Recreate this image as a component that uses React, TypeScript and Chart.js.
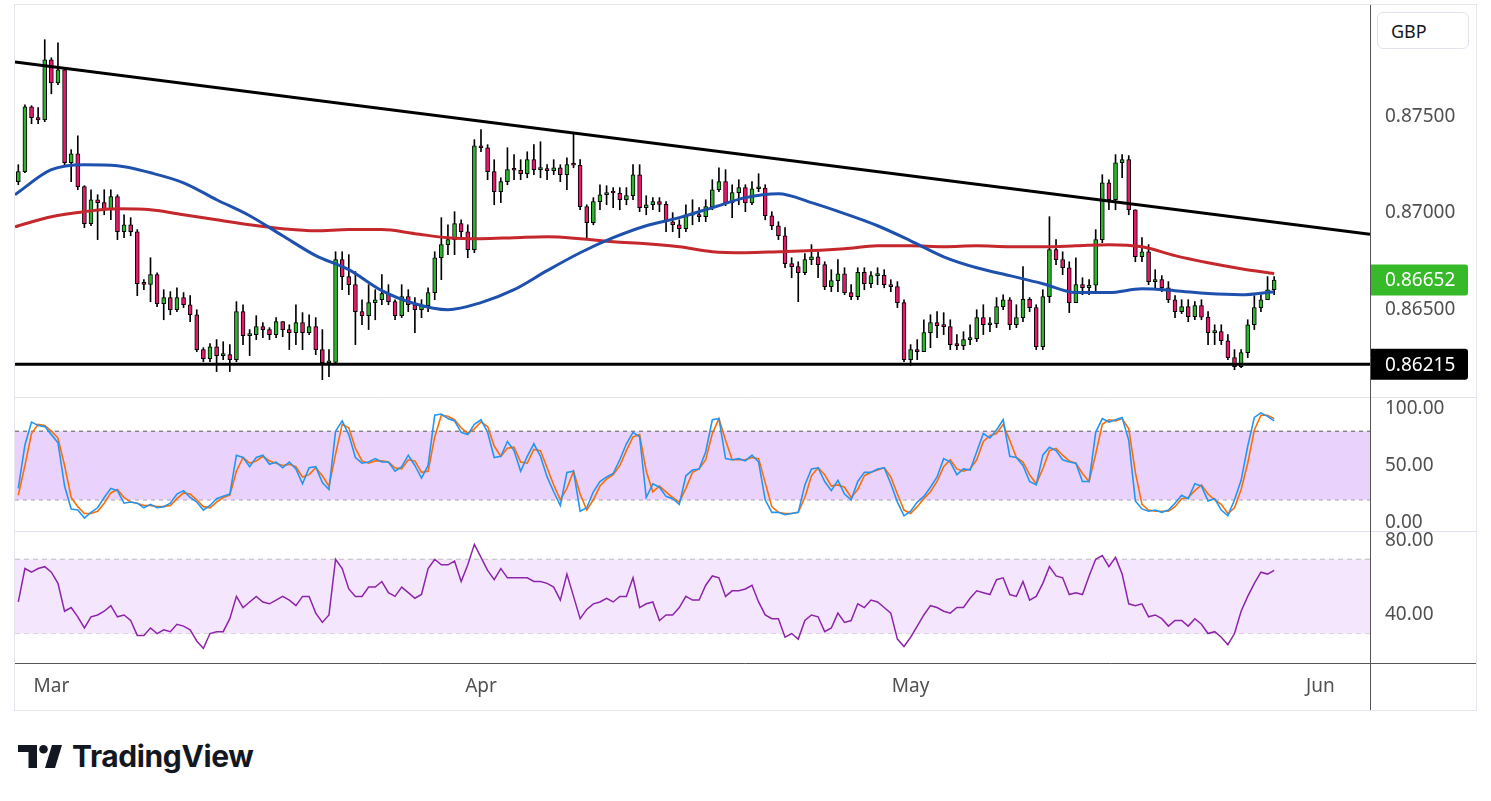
import React, { useEffect, useRef } from "react";
import { Chart, registerables } from "chart.js";

Chart.register(...registerables);

// ---------------- DATA ----------------
const FIRST_OPEN = 0.87163;

const CLOSE = [
  0.87215, 0.87552, 0.87495, 0.87484, 0.87796, 0.87676, 0.87744, 0.87261, 0.87308, 0.87137,
  0.86945, 0.87069, 0.87054, 0.87017, 0.87085, 0.86903, 0.86939, 0.86903, 0.86633, 0.8663,
  0.8668, 0.86529, 0.86561, 0.86498, 0.86561, 0.86524, 0.86472, 0.86291, 0.86244, 0.86306,
  0.8626, 0.86265, 0.86239, 0.86488, 0.86364, 0.86369, 0.8641, 0.86395, 0.86369, 0.86436,
  0.86395, 0.86379, 0.86431, 0.86379, 0.8641, 0.86291, 0.86223, 0.86225, 0.86758, 0.8667,
  0.86628, 0.86488, 0.86467, 0.86535, 0.8655, 0.86582, 0.8654, 0.86467, 0.86566, 0.86524,
  0.86498, 0.86519, 0.86587, 0.86768, 0.86836, 0.86862, 0.86945, 0.86903, 0.8681, 0.87349,
  0.87339, 0.87215, 0.87111, 0.87163, 0.87225, 0.87222, 0.87204, 0.87277, 0.87225, 0.87228,
  0.8722, 0.87235, 0.87199, 0.87251, 0.87248, 0.87033, 0.8695, 0.87059, 0.87095, 0.87106,
  0.87104, 0.87069, 0.8709, 0.87199, 0.87028, 0.87043, 0.87059, 0.87045, 0.86955, 0.86939,
  0.86919, 0.86991, 0.86989, 0.86981, 0.87033, 0.87121, 0.87163, 0.87054, 0.87106, 0.87132,
  0.87052, 0.87126, 0.8713, 0.86986, 0.86934, 0.86882, 0.86737, 0.86722, 0.8669, 0.86758,
  0.86773, 0.86732, 0.86618, 0.86649, 0.86685, 0.86587, 0.86566, 0.86692, 0.86633, 0.86675,
  0.86677, 0.86628, 0.86618, 0.86535, 0.86239, 0.86291, 0.8628, 0.86379, 0.86431, 0.86415,
  0.8641, 0.86317, 0.86312, 0.86343, 0.86348, 0.86457, 0.8642, 0.86426, 0.86514, 0.8655,
  0.8642, 0.86457, 0.86552, 0.86509, 0.86306, 0.86566, 0.8681, 0.86758, 0.86716, 0.86535,
  0.86628, 0.86612, 0.86626, 0.86862, 0.87157, 0.87069, 0.87261, 0.87277, 0.87017, 0.86773,
  0.86799, 0.86644, 0.86654, 0.86612, 0.8655, 0.86488, 0.86514, 0.86462, 0.86519, 0.8646,
  0.86379, 0.86384, 0.86337, 0.86249, 0.86203, 0.86275, 0.8642, 0.86509, 0.8655, 0.86602,
  0.86652,
];

const HIGH = [
  0.87251, 0.87562, 0.87557, 0.87547, 0.879, 0.87806, 0.87884, 0.87754, 0.87329, 0.87401,
  0.87142, 0.87121, 0.87095, 0.87121, 0.87121, 0.87095, 0.86991, 0.86976, 0.86914, 0.86654,
  0.86768, 0.8669, 0.86602, 0.86592, 0.86612, 0.86587, 0.86571, 0.86498, 0.86301, 0.86322,
  0.86343, 0.86332, 0.86317, 0.8654, 0.86524, 0.86395, 0.86467, 0.86431, 0.86405, 0.86457,
  0.86436, 0.8642, 0.86524, 0.86483, 0.86472, 0.86457, 0.86395, 0.86291, 0.86799, 0.86799,
  0.86784, 0.86696, 0.8655, 0.86628, 0.86602, 0.8668, 0.86628, 0.8655, 0.86628, 0.86602,
  0.86561, 0.8655, 0.86612, 0.86799, 0.86976, 0.86939, 0.87007, 0.86965, 0.86939, 0.87381,
  0.87433, 0.87355, 0.87277, 0.87183, 0.87339, 0.87303, 0.87277, 0.87318, 0.87355, 0.8737,
  0.87251, 0.87277, 0.87251, 0.87287, 0.87417, 0.87277, 0.87043, 0.8708, 0.87147, 0.87142,
  0.87132, 0.87132, 0.87132, 0.87251, 0.87251, 0.8709, 0.8708, 0.8708, 0.87059, 0.87002,
  0.86965, 0.87043, 0.87069, 0.87028, 0.87069, 0.87173, 0.87235, 0.87225, 0.87147, 0.87173,
  0.87147, 0.87163, 0.87204, 0.87147, 0.87007, 0.86955, 0.86924, 0.86768, 0.86747, 0.86789,
  0.86836, 0.86799, 0.86747, 0.86706, 0.86758, 0.86716, 0.86628, 0.86716, 0.86716, 0.86696,
  0.86716, 0.86706, 0.86654, 0.86644, 0.8655, 0.86317, 0.86343, 0.86446, 0.86472, 0.86488,
  0.86483, 0.86446, 0.86369, 0.86384, 0.8642, 0.86498, 0.86524, 0.86457, 0.86561, 0.86576,
  0.86561, 0.86524, 0.86722, 0.86561, 0.86524, 0.86602, 0.86981, 0.86862, 0.86799, 0.86747,
  0.86768, 0.86664, 0.86654, 0.86914, 0.87199, 0.87173, 0.87303, 0.87303, 0.87298, 0.87017,
  0.86872, 0.86836, 0.86706, 0.86675, 0.86644, 0.86571, 0.8655, 0.8655, 0.8654, 0.8655,
  0.86488, 0.8642, 0.8642, 0.86369, 0.86291, 0.86291, 0.86446, 0.86571, 0.86576, 0.8667,
  0.8667,
];

const LOW = [
  0.87147, 0.87209, 0.87464, 0.87464, 0.87474, 0.87619, 0.87666, 0.87251, 0.87163, 0.87121,
  0.86924, 0.86934, 0.86862, 0.86991, 0.86965, 0.86862, 0.86872, 0.86882, 0.86571, 0.86602,
  0.8654, 0.86514, 0.86446, 0.86472, 0.86488, 0.86509, 0.86436, 0.8628, 0.86228, 0.86228,
  0.86177, 0.86239, 0.86177, 0.86228, 0.86317, 0.8626, 0.86343, 0.86353, 0.86343, 0.86353,
  0.86358, 0.86291, 0.86317, 0.86291, 0.86369, 0.86265, 0.86135, 0.86151, 0.86213, 0.86602,
  0.86576, 0.86317, 0.8642, 0.86395, 0.86446, 0.86524, 0.86524, 0.86446, 0.86457, 0.86488,
  0.86379, 0.86457, 0.86488, 0.8655, 0.86654, 0.86784, 0.86784, 0.86862, 0.86768, 0.86794,
  0.87318, 0.87173, 0.87043, 0.87054, 0.87147, 0.87173, 0.87173, 0.87183, 0.87199, 0.87183,
  0.87173, 0.87199, 0.87163, 0.87121, 0.87235, 0.87017, 0.86872, 0.86939, 0.87017, 0.87043,
  0.87028, 0.87017, 0.87043, 0.87069, 0.87007, 0.86991, 0.87017, 0.87007, 0.86903, 0.86903,
  0.86872, 0.86903, 0.86939, 0.86955, 0.86955, 0.87017, 0.87111, 0.87038, 0.86976, 0.87043,
  0.87007, 0.87043, 0.87111, 0.86965, 0.86914, 0.86862, 0.86716, 0.86664, 0.8654, 0.8668,
  0.86732, 0.86664, 0.86602, 0.86592, 0.86592, 0.86576, 0.8655, 0.8655, 0.86602, 0.86612,
  0.86628, 0.86612, 0.86592, 0.86509, 0.86228, 0.86208, 0.86239, 0.86306, 0.86301, 0.86353,
  0.86369, 0.86291, 0.86291, 0.86291, 0.86317, 0.86332, 0.86369, 0.86384, 0.86405, 0.86498,
  0.86395, 0.86405, 0.86436, 0.86488, 0.86291, 0.86291, 0.86535, 0.86732, 0.8668, 0.86483,
  0.8655, 0.86576, 0.86576, 0.86592, 0.86846, 0.87017, 0.87017, 0.87183, 0.86991, 0.86747,
  0.86747, 0.86628, 0.86602, 0.86592, 0.86535, 0.86457, 0.86478, 0.86436, 0.86446, 0.86446,
  0.86317, 0.86317, 0.86317, 0.86239, 0.86187, 0.86197, 0.86249, 0.86395, 0.86488, 0.8655,
  0.86576,
];

// moving averages, sampled every 5 bars
const MA_INDEX = [
  -0.5, 5, 10, 15, 20, 25, 30, 35, 40, 45, 50, 55, 60, 65, 70, 75, 80, 85, 90, 95,
  100, 105, 110, 115, 120, 125, 130, 135, 140, 145, 150, 155, 160, 165, 170, 175, 180, 185, 190,
];
const MA_FAST = [
  0.87095, 0.87225, 0.87251, 0.87246, 0.87209, 0.87157, 0.87069, 0.86986, 0.86882, 0.86779,
  0.86706, 0.86597, 0.86529, 0.86498, 0.86535, 0.86602, 0.86701, 0.86794, 0.86872, 0.86934,
  0.86976, 0.87028, 0.8708, 0.871, 0.87054, 0.86997, 0.86934, 0.86856, 0.86773, 0.86716,
  0.86675, 0.86633, 0.86587, 0.86587, 0.86607, 0.86597, 0.86582, 0.86576, 0.86592,
];
const MA_SLOW = [
  0.86929, 0.86981, 0.87007, 0.87022, 0.87017, 0.86991, 0.86965, 0.86939, 0.86919, 0.86908,
  0.86914, 0.86914, 0.86893, 0.86872, 0.86867, 0.86872, 0.86877, 0.86867, 0.86851, 0.86841,
  0.86825, 0.86799, 0.86794, 0.86799, 0.86805, 0.86815, 0.8683, 0.8683, 0.86825, 0.8683,
  0.86825, 0.86825, 0.8683, 0.86836, 0.86825, 0.86779, 0.86742, 0.86711, 0.86685,
];

// drawn lines
const TRENDLINE_INDEX = [-0.5, 204.5];
const TRENDLINE_PRICE = [0.87784, 0.8689];
const SUPPORT_PRICE = 0.86215;

const STOCH_K = [
  30, 68, 88, 85, 84, 77, 70, 32, 12, 11,
  4, 9, 13, 22, 30, 28, 17, 18, 17, 13,
  16, 13, 14, 17, 25, 28, 22, 18, 11, 15,
  21, 23, 25, 59, 57, 49, 57, 59, 51, 53,
  48, 53, 47, 34, 48, 49, 35, 29, 80, 89,
  77, 57, 52, 53, 56, 53, 53, 45, 49, 59,
  50, 39, 50, 94, 95, 91, 89, 79, 77, 86,
  90, 79, 57, 58, 71, 63, 45, 58, 69, 58,
  40, 27, 15, 44, 45, 10, 13, 27, 36, 40,
  43, 55, 69, 79, 75, 22, 34, 31, 23, 21,
  16, 41, 46, 47, 62, 90, 91, 56, 55, 56,
  54, 59, 53, 20, 9, 9, 7, 8, 9, 33,
  47, 48, 36, 28, 37, 25, 20, 36, 44, 44,
  47, 48, 34, 18, 6, 10, 18, 23, 31, 40,
  56, 53, 42, 47, 46, 62, 78, 74, 81, 90,
  58, 57, 50, 36, 33, 59, 66, 63, 55, 53,
  52, 36, 36, 79, 91, 88, 90, 92, 72, 19,
  12, 10, 11, 9, 11, 17, 24, 21, 34, 32,
  19, 21, 11, 6, 20, 37, 67, 92, 96, 93,
  89,
];

const STOCH_D = [
  24, 50, 78, 86, 85, 80, 74, 50, 22, 14,
  8, 8, 10, 17, 26, 29, 22, 18, 17, 15,
  15, 14, 14, 15, 21, 26, 25, 20, 14, 13,
  18, 22, 24, 45, 57, 52, 54, 58, 54, 52,
  50, 51, 49, 40, 42, 48, 41, 32, 60, 86,
  83, 65, 54, 52, 54, 54, 53, 48, 47, 55,
  54, 44, 45, 75, 94, 93, 90, 83, 78, 82,
  88, 84, 67, 58, 65, 66, 53, 52, 64, 63,
  48, 33, 20, 30, 45, 25, 11, 20, 32, 38,
  42, 50, 63, 75, 77, 45, 27, 32, 27, 22,
  18, 30, 44, 47, 55, 78, 91, 72, 55, 55,
  55, 57, 56, 35, 14, 9, 8, 8, 9, 22,
  41, 48, 42, 32, 33, 31, 22, 29, 41, 44,
  46, 48, 40, 25, 11, 8, 14, 21, 27, 36,
  49, 55, 47, 45, 47, 55, 71, 76, 78, 86,
  72, 57, 53, 42, 34, 47, 63, 65, 59, 54,
  52, 43, 36, 60, 86, 90, 89, 91, 82, 44,
  16, 11, 10, 10, 10, 14, 21, 22, 28, 33,
  25, 20, 16, 8, 13, 29, 52, 81, 94, 94,
  91,
];

const RSI = [
  47, 65, 63, 65, 66, 63, 57, 42, 44, 39,
  33, 39, 40, 42, 45, 39, 40, 37, 29, 29,
  33, 30, 32, 31, 35, 34, 32, 26, 22, 30,
  31, 31, 38, 50, 44, 47, 50, 47, 46, 48,
  50, 48, 45, 50, 50, 41, 36, 40, 70, 65,
  54, 50, 50, 55, 55, 58, 52, 50, 55, 52,
  49, 51, 65, 70, 67, 67, 69, 58, 67, 78,
  71, 64, 59, 65, 60, 60, 60, 60, 58, 58,
  57, 55, 48, 62, 50, 38, 43, 46, 47, 49,
  47, 50, 50, 60, 44, 46, 47, 37, 40, 40,
  44, 50, 48, 48, 56, 61, 60, 50, 53, 53,
  54, 56, 47, 40, 38, 38, 28, 30, 27, 37,
  40, 39, 31, 33, 41, 36, 37, 46, 44, 48,
  47, 44, 41, 27, 23, 28, 34, 40, 45, 44,
  42, 41, 44, 44, 49, 53, 52, 51, 59, 60,
  51, 50, 58, 48, 50, 57, 66, 61, 60, 51,
  52, 51, 61, 70, 72, 66, 71, 62, 46, 45,
  46, 39, 40, 38, 34, 37, 37, 34, 38, 35,
  30, 31, 28, 24, 30, 42, 50, 57, 63, 62,
  64,
];

const STOCH_BAND = [20, 80];
const RSI_BAND = [30, 70];

const MONTH_LABELS = ["Mar", "Apr", "May", "Jun"];
const MONTH_START_INDEX = [5, 70, 135, 197];

const PRICE_TICKS = [0.865, 0.87, 0.875];
const STOCH_TICKS = [0, 50, 100];
const RSI_TICKS = [40, 80];

// ---------------- STYLE ----------------
const FONT = "'Noto Sans', 'DejaVu Sans', sans-serif";
const AXIS_TEXT = "#505050";
const UP = "#2DB42D";
const DOWN = "#E8196A";
const X_MIN = -0.5;
const X_MAX = 204.5;
const AXIS_W = 106;

const OPEN = CLOSE.map((_, i) => (i === 0 ? FIRST_OPEN : CLOSE[i - 1]));

function fixWidth(scale: any) {
  scale.width = AXIS_W;
  scale.paddingTop = 0;
  scale.paddingBottom = 0;
}

const overlayPlugin = {
  id: "overlay",
  afterDraw(chart: any) {
    const { ctx, scales } = chart;
    const W = chart.width;
    const H = chart.height;
    ctx.save();
    // pane separators
    ctx.lineWidth = 1;
    ctx.strokeStyle = "#E0E3EB";
    [scales.yStoch.top, scales.yRsi.top].forEach((yy: number) => {
      const p = Math.round(yy) + 0.5;
      ctx.beginPath();
      ctx.moveTo(0, p);
      ctx.lineTo(W, p);
      ctx.stroke();
    });
    ctx.strokeStyle = "#555555";
    const xb = Math.round(scales.x.top) + 0.5;
    ctx.beginPath();
    ctx.moveTo(0, xb);
    ctx.lineTo(W, xb);
    ctx.stroke();
    const vx = Math.round(scales.y.left) + 0.5;
    ctx.beginPath();
    ctx.moveTo(vx, 0);
    ctx.lineTo(vx, H);
    ctx.stroke();

    // price labels
    const drawLabel = (price: number, bg: string) => {
      const py = scales.y.getPixelForValue(price);
      const x0 = scales.y.left + 1;
      ctx.fillStyle = bg;
      ctx.beginPath();
      if ((ctx as any).roundRect) (ctx as any).roundRect(x0, py - 15.5, 97, 31, [0, 3, 3, 0]);
      else ctx.rect(x0, py - 15.5, 97, 31);
      ctx.fill();
      ctx.fillStyle = "#ffffff";
      ctx.font = `19px ${FONT}`;
      ctx.textBaseline = "middle";
      ctx.textAlign = "left";
      ctx.fillText(price.toFixed(5), scales.y.left + 15, py + 1);
    };
    drawLabel(CLOSE[CLOSE.length - 1], "#37BA2A");
    drawLabel(SUPPORT_PRICE, "#000000");
    ctx.restore();
  },
};

function hLine(value: number, axis: string, color: string, dash: number[], fillTo?: number, fillColor?: string) {
  return {
    type: "line" as const,
    data: [
      { x: X_MIN, y: value },
      { x: X_MAX, y: value },
    ],
    yAxisID: axis,
    borderColor: color,
    borderWidth: 1,
    borderDash: dash,
    pointRadius: 0,
    fill: fillTo !== undefined ? { value: fillTo } : false,
    backgroundColor: fillColor || "transparent",
    order: 20,
  };
}

export default function App() {
  const ref = useRef<HTMLCanvasElement>(null);

  useEffect(() => {
    if (!ref.current) return;
    Chart.defaults.font.family = FONT;
    const chart = new Chart(ref.current, {
      type: "bar",
      data: {
        datasets: [
          // stoch band
          hLine(STOCH_BAND[1], "yStoch", "#555555", [4, 4], STOCH_BAND[0], "#E9D2FC"),
          hLine(STOCH_BAND[0], "yStoch", "#555555", [4, 4]),
          // rsi band
          hLine(RSI_BAND[1], "yRsi", "#BDBDBD", [5, 4], RSI_BAND[0], "#F4E7FD"),
          hLine(RSI_BAND[0], "yRsi", "#BDBDBD", [5, 4]),
          // candle wicks
          {
            type: "bar",
            data: CLOSE.map((_, i) => ({ x: i, y: [LOW[i], HIGH[i]] })) as any,
            backgroundColor: "#000000",
            barThickness: 1,
            grouped: false,
            yAxisID: "y",
            order: 12,
          },
          // candle bodies
          {
            type: "bar",
            data: CLOSE.map((c, i) => ({ x: i, y: [OPEN[i], c] })) as any,
            backgroundColor: CLOSE.map((c, i) => (c >= OPEN[i] ? UP : DOWN)),
            borderColor: "#000000",
            borderWidth: 1,
            borderSkipped: false,
            barThickness: 4,
            minBarLength: 2,
            grouped: false,
            yAxisID: "y",
            order: 11,
          },
          // moving averages
          {
            type: "line",
            data: MA_INDEX.map((x, k) => ({ x, y: MA_SLOW[k] })),
            borderColor: "#C4282C",
            borderWidth: 3,
            pointRadius: 0,
            cubicInterpolationMode: "monotone",
            yAxisID: "y",
            order: 5,
          },
          {
            type: "line",
            data: MA_INDEX.map((x, k) => ({ x, y: MA_FAST[k] })),
            borderColor: "#1E50AE",
            borderWidth: 3,
            pointRadius: 0,
            cubicInterpolationMode: "monotone",
            yAxisID: "y",
            order: 4,
          },
          // trend lines
          {
            type: "line",
            data: TRENDLINE_INDEX.map((x, k) => ({ x, y: TRENDLINE_PRICE[k] })),
            borderColor: "#000000",
            borderWidth: 3,
            pointRadius: 0,
            yAxisID: "y",
            order: 1,
          },
          {
            type: "line",
            data: TRENDLINE_INDEX.map((x) => ({ x, y: SUPPORT_PRICE })),
            borderColor: "#000000",
            borderWidth: 3,
            pointRadius: 0,
            yAxisID: "y",
            order: 1,
          },
          // stochastic
          {
            type: "line",
            data: STOCH_D.map((v, i) => ({ x: i, y: v })),
            borderColor: "#FF6D00",
            borderWidth: 1.6,
            pointRadius: 0,
            yAxisID: "yStoch",
            order: 3,
          },
          {
            type: "line",
            data: STOCH_K.map((v, i) => ({ x: i, y: v })),
            borderColor: "#2196F3",
            borderWidth: 1.6,
            pointRadius: 0,
            yAxisID: "yStoch",
            order: 2,
          },
          // rsi
          {
            type: "line",
            data: RSI.map((v, i) => ({ x: i, y: v })),
            borderColor: "#8E24AA",
            borderWidth: 1.5,
            pointRadius: 0,
            yAxisID: "yRsi",
            order: 2,
          },
        ] as any,
      },
      options: {
        animation: false,
        responsive: false,
        events: [],
        layout: { padding: 0 },
        plugins: {
          legend: { display: false },
          tooltip: { enabled: false },
        },
        scales: {
          x: {
            type: "linear",
            min: X_MIN,
            max: X_MAX,
            offset: false,
            grid: { display: false, drawTicks: false },
            border: { display: false },
            afterBuildTicks: (s: any) => {
              s.ticks = MONTH_START_INDEX.map((v) => ({ value: v }));
            },
            afterFit: (s: any) => {
              s.height = 47.3;
              s.paddingLeft = 0;
              s.paddingRight = 0;
            },
            ticks: {
              autoSkip: false,
              maxRotation: 0,
              padding: 12,
              color: AXIS_TEXT,
              font: { size: 19, family: FONT },
              callback: (_v: any, i: number) => MONTH_LABELS[i],
            },
          },
          y: {
            type: "linear",
            position: "right",
            stack: "panes",
            stackWeight: 392,
            min: 0.86045,
            max: 0.8808,
            beginAtZero: false,
            grid: { display: false, drawTicks: false },
            border: { display: false },
            afterBuildTicks: (s: any) => {
              s.ticks = PRICE_TICKS.map((v) => ({ value: v }));
            },
            afterFit: fixWidth,
            ticks: {
              autoSkip: false,
              padding: 15,
              color: AXIS_TEXT,
              font: { size: 19, family: FONT },
              callback: (v: any) => Number(v).toFixed(5),
            },
          },
          yStoch: {
            type: "linear",
            position: "right",
            stack: "panes",
            stackWeight: 134,
            min: -7.3,
            max: 109.9,
            beginAtZero: false,
            grid: { display: false, drawTicks: false },
            border: { display: false },
            afterBuildTicks: (s: any) => {
              s.ticks = STOCH_TICKS.map((v) => ({ value: v }));
            },
            afterFit: fixWidth,
            ticks: {
              autoSkip: false,
              padding: 15,
              color: AXIS_TEXT,
              font: { size: 19, family: FONT },
              callback: (v: any) => Number(v).toFixed(2),
            },
          },
          yRsi: {
            type: "linear",
            position: "right",
            stack: "panes",
            stackWeight: 131.7,
            min: 14.3,
            max: 85.2,
            beginAtZero: false,
            grid: { display: false, drawTicks: false },
            border: { display: false },
            afterBuildTicks: (s: any) => {
              s.ticks = RSI_TICKS.map((v) => ({ value: v }));
            },
            afterFit: fixWidth,
            ticks: {
              autoSkip: false,
              padding: 15,
              color: AXIS_TEXT,
              font: { size: 19, family: FONT },
              callback: (v: any) => Number(v).toFixed(2),
            },
          },
        } as any,
      },
      plugins: [overlayPlugin],
    });
    return () => chart.destroy();
  }, []);

  return (
    <div
      style={{
        position: "absolute",
        left: 0,
        top: 0,
        width: 1491,
        height: 801,
        background: "#ffffff",
        fontFamily: FONT,
        overflow: "hidden",
      }}
    >
      <div
        style={{
          position: "absolute",
          left: 14,
          top: 4,
          width: 1463,
          height: 707,
          border: "1px solid #E3E6EC",
          boxSizing: "border-box",
        }}
      >
        <canvas ref={ref} width={1461} height={705} style={{ display: "block" }} />
      </div>
      <div
        style={{
          position: "absolute",
          left: 1377,
          top: 12,
          width: 92,
          height: 37,
          boxSizing: "border-box",
          border: "1px solid #E0E3EB",
          borderRadius: 6,
          background: "#ffffff",
          display: "flex",
          alignItems: "center",
          paddingLeft: 13,
          fontSize: 18,
          color: "#131722",
        }}
      >
        GBP
      </div>
      <div style={{ position: "absolute", left: 18, top: 744, display: "flex", alignItems: "center" }}>
        <svg width="44" height="23" viewBox="0 0 44 23">
          <rect x="0" y="0" width="19" height="7" fill="#131722" />
          <rect x="10.5" y="0" width="8.5" height="23" fill="#131722" />
          <circle cx="25.5" cy="4.3" r="4.3" fill="#131722" />
          <polygon points="34,0 44,0 37,23 27,23" fill="#131722" />
        </svg>
        <span
          style={{
            marginLeft: 10,
            fontFamily: "Inter, 'Noto Sans', sans-serif",
            fontWeight: 700,
            fontSize: 30,
            lineHeight: "24px",
            color: "#131722",
            letterSpacing: -0.4,
          }}
        >
          TradingView
        </span>
      </div>
    </div>
  );
}
